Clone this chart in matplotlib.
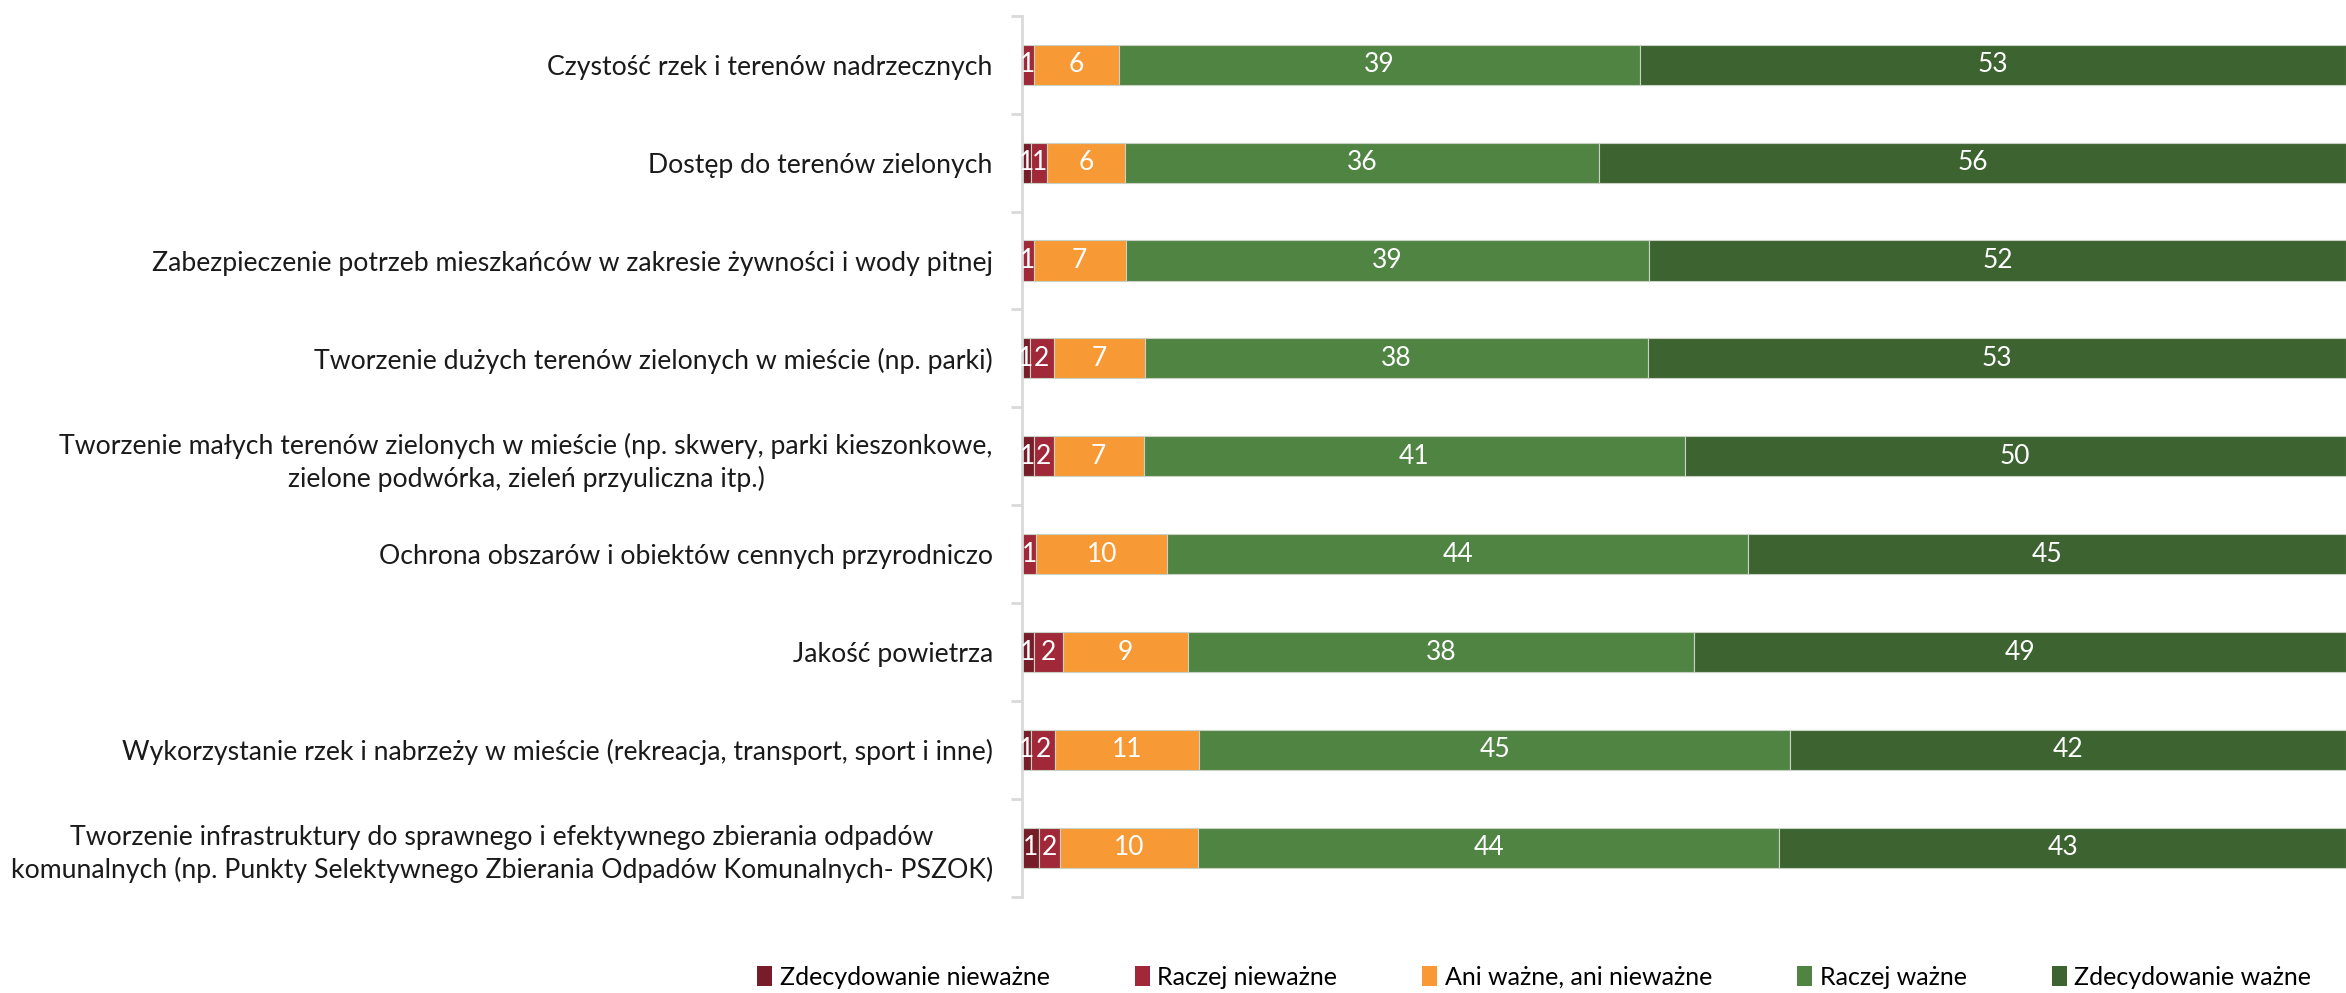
import numpy as np
import matplotlib
matplotlib.use("Agg")
import matplotlib.pyplot as plt
from matplotlib.patches import Patch

plt.rcParams['font.family'] = ['Lato', 'DejaVu Sans']

categories = [
    "Czystość rzek i terenów nadrzecznych",
    "Dostęp do terenów zielonych",
    "Zabezpieczenie potrzeb mieszkańców w zakresie żywności i wody pitnej",
    "Tworzenie dużych terenów zielonych w mieście (np. parki)",
    "Tworzenie małych terenów zielonych w mieście (np. skwery, parki kieszonkowe,\nzielone podwórka, zieleń przyuliczna itp.)",
    "Ochrona obszarów i obiektów cennych przyrodniczo",
    "Jakość powietrza",
    "Wykorzystanie rzek i nabrzeży w mieście (rekreacja, transport, sport i inne)",
    "Tworzenie infrastruktury do sprawnego i efektywnego zbierania odpadów\nkomunalnych (np. Punkty Selektywnego Zbierania Odpadów Komunalnych- PSZOK)",
]

series_names = ["Zdecydowanie nieważne", "Raczej nieważne", "Ani ważne, ani nieważne",
                "Raczej ważne", "Zdecydowanie ważne"]

zdecydowanie_niewazne = [0.0, 0.7, 0.0, 0.6, 0.9, 0.0, 0.9, 0.7, 1.3]
raczej_niewazne = [0.9, 1.2, 0.9, 1.8, 1.5, 1.1, 2.2, 1.8, 1.6]
ani_ani = [6.4, 5.9, 6.9, 6.9, 6.8, 9.9, 9.4, 10.9, 10.4]
raczej_wazne = [39.3, 35.8, 39.4, 38.1, 40.9, 43.9, 38.2, 44.7, 43.9]
zdecydowanie_wazne = [53.3, 56.4, 52.4, 52.8, 50.0, 45.2, 49.2, 42.0, 42.8]

colors = ["#771d29", "#a02838", "#f79a36", "#4f8443", "#3d6331"]

data = np.array([zdecydowanie_niewazne, raczej_niewazne, ani_ani, raczej_wazne, zdecydowanie_wazne])
# 100% stacked: every row scaled to its own total
shares = data / data.sum(axis=0) * 100

fig = plt.figure(figsize=(23.46, 9.93), dpi=100)
ax = fig.add_axes([0.4356, 0.097, 0.5644, 0.887])

y = np.arange(len(categories))
left = np.zeros(len(categories))
for i, name in enumerate(series_names):
    ax.barh(y, shares[i], left=left, height=0.41, color=colors[i],
            edgecolor="#c9d1c5", linewidth=0.8, label=name)
    for j in range(len(categories)):
        v = data[i, j]
        if round(v) == 0:
            continue
        ax.text(left[j] + shares[i, j] / 2, y[j], f"{round(v):d}", ha="center", va="center",
                color="white", fontsize=19)
    left += shares[i]

ax.set_xlim(0, 100)
ax.set_ylim(8.5, -0.5)
ax.set_yticks(y)
ax.set_yticklabels(categories, fontsize=19.2, color="#1a1a1a")
for t in ax.get_yticklabels():
    t.set_multialignment("center")
    t.set_linespacing(1.35)
ax.set_yticks(np.arange(-0.5, 9, 1), minor=True)
ax.tick_params(axis="y", which="major", length=0, pad=21)
ax.tick_params(axis="y", which="minor", length=8, width=2, color="#d9d9d9")
ax.set_xticks([])
for s in ["top", "right", "bottom"]:
    ax.spines[s].set_visible(False)
ax.spines["left"].set_color("#d9d9d9")
ax.spines["left"].set_linewidth(2)

handles = [Patch(facecolor=c, label=n) for c, n in zip(colors, series_names)]
fig.legend(handles=handles, loc="center", bbox_to_anchor=(0.654, 0.016), ncol=5,
           frameon=False, fontsize=18, handlelength=0.6, handleheight=0.9,
           handletextpad=0.3, columnspacing=3.4, borderpad=0)

fig.savefig("out.png", dpi=100)
